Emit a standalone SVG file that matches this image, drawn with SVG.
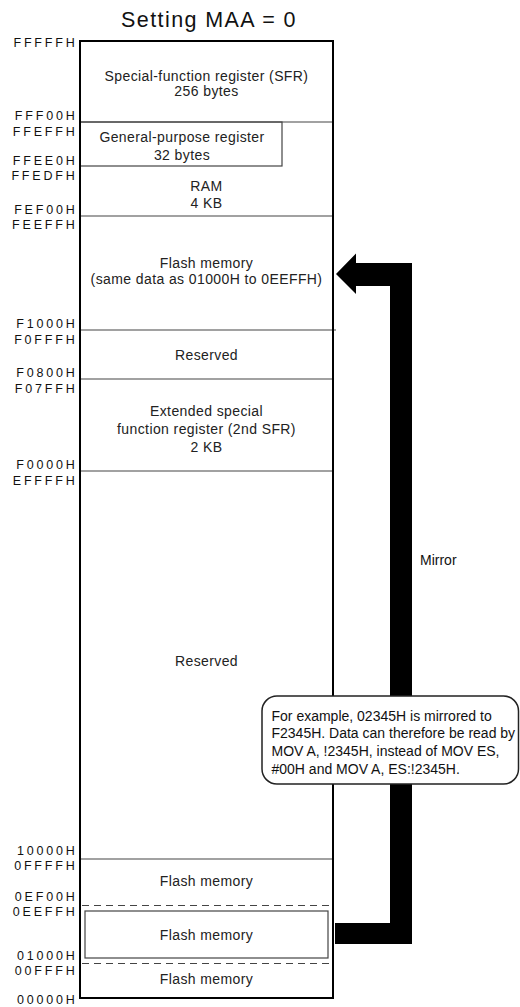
<svg xmlns="http://www.w3.org/2000/svg" width="520" height="1007" viewBox="0 0 520 1007">
<style>
.t{font-family:"Liberation Sans",Arial,sans-serif;font-size:14px;fill:#222;text-anchor:middle;letter-spacing:0.4px}
.a{font-family:"Liberation Sans",Arial,sans-serif;font-size:12.5px;fill:#111;text-anchor:end;letter-spacing:2.8px}
.c{font-family:"Liberation Sans",Arial,sans-serif;font-size:14px;fill:#111}
.d{stroke:#444;stroke-width:1.2;fill:none}
.dash{stroke:#444;stroke-width:1.2;stroke-dasharray:7 5;fill:none}
</style>
<rect width="520" height="1007" fill="#fff"/>
<text x="209" y="27" font-family="'Liberation Sans',Arial,sans-serif" font-size="21.5" fill="#111" text-anchor="middle" letter-spacing="1.4">Setting MAA = 0</text>

<g id="addresses">
<text class="a" x="77.5" y="46.5">FFFFFH</text>
<text class="a" x="77.5" y="120">FFF00H</text>
<text class="a" x="77.5" y="135.5">FFEFFH</text>
<text class="a" x="77.5" y="164.5">FFEE0H</text>
<text class="a" x="77.5" y="180">FFEDFH</text>
<text class="a" x="77.5" y="213.5">FEF00H</text>
<text class="a" x="77.5" y="229">FEEFFH</text>
<text class="a" x="77.5" y="327.5">F1000H</text>
<text class="a" x="77.5" y="344">F0FFFH</text>
<text class="a" x="77.5" y="377">F0800H</text>
<text class="a" x="77.5" y="393">F07FFH</text>
<text class="a" x="77.5" y="469">F0000H</text>
<text class="a" x="77.5" y="484.5">EFFFFH</text>
<text class="a" x="77.5" y="855">10000H</text>
<text class="a" x="77.5" y="869.5">0FFFFH</text>
<text class="a" x="77.5" y="901">0EF00H</text>
<text class="a" x="77.5" y="915.5">0EEFFH</text>
<text class="a" x="77.5" y="960">01000H</text>
<text class="a" x="77.5" y="975">00FFFH</text>
<text class="a" x="77.5" y="1004">00000H</text>
</g>

<g id="sfr">
<text class="t" x="206.5" y="81">Special-function register (SFR)</text>
<text class="t" x="206.5" y="96">256 bytes</text>
<line class="d" x1="80" y1="122" x2="333" y2="122"/>
</g>
<g id="gpr">
<rect class="d" x="80" y="122" width="202" height="44"/>
<text class="t" x="182" y="142">General-purpose register</text>
<text class="t" x="182" y="160">32 bytes</text>
</g>
<g id="ram">
<text class="t" x="206.5" y="191">RAM</text>
<text class="t" x="206.5" y="208">4 KB</text>
<line class="d" x1="80" y1="216" x2="333" y2="216"/>
</g>
<g id="flash-mirror">
<text class="t" x="206.5" y="268">Flash memory</text>
<text class="t" x="206.5" y="284">(same data as 01000H to 0EEFFH)</text>
<line class="d" x1="80" y1="330" x2="336" y2="330"/>
</g>
<g id="reserved1">
<text class="t" x="206.5" y="360">Reserved</text>
<line class="d" x1="80" y1="379" x2="333" y2="379"/>
</g>
<g id="sfr2">
<text class="t" x="206.5" y="416">Extended special</text>
<text class="t" x="206.5" y="434">function register (2nd SFR)</text>
<text class="t" x="206.5" y="451.5">2 KB</text>
<line class="d" x1="80" y1="471" x2="333" y2="471"/>
</g>
<g id="reserved2">
<text class="t" x="206.5" y="666">Reserved</text>
<line class="d" x1="80" y1="859" x2="333" y2="859"/>
</g>
<g id="flash-top">
<text class="t" x="206.5" y="886">Flash memory</text>
<line class="dash" x1="82" y1="905.5" x2="333" y2="905.5"/>
</g>
<g id="flash-mid">
<rect class="d" x="85" y="911" width="243" height="47"/>
<text class="t" x="206.5" y="939.5">Flash memory</text>
<line class="dash" x1="82" y1="963.5" x2="333" y2="963.5"/>
</g>
<g id="flash-low">
<text class="t" x="206.5" y="983.5">Flash memory</text>
</g>
<rect id="memory-map" x="80" y="41" width="253" height="957" fill="none" stroke="#000" stroke-width="2"/>

<g id="connectors">
<polygon points="336,274 356,253.5 356,263 412,263 412,944 335,944 335,923 390,923 390,286 356,286 356,294" fill="#000"/>
<text class="c" x="420" y="565">Mirror</text>
</g>

<g id="callout">
<rect x="262" y="696" width="256.5" height="88" rx="15" ry="15" fill="#fff" stroke="#222" stroke-width="1.5"/>
<text class="c" x="271.5" y="720.5">For example, 02345H is mirrored to</text>
<text class="c" x="271.5" y="738">F2345H. Data can therefore be read by</text>
<text class="c" x="271.5" y="756">MOV A, !2345H, instead of MOV ES,</text>
<text class="c" x="271.5" y="774">#00H and MOV A, ES:!2345H.</text>
</g>
</svg>
